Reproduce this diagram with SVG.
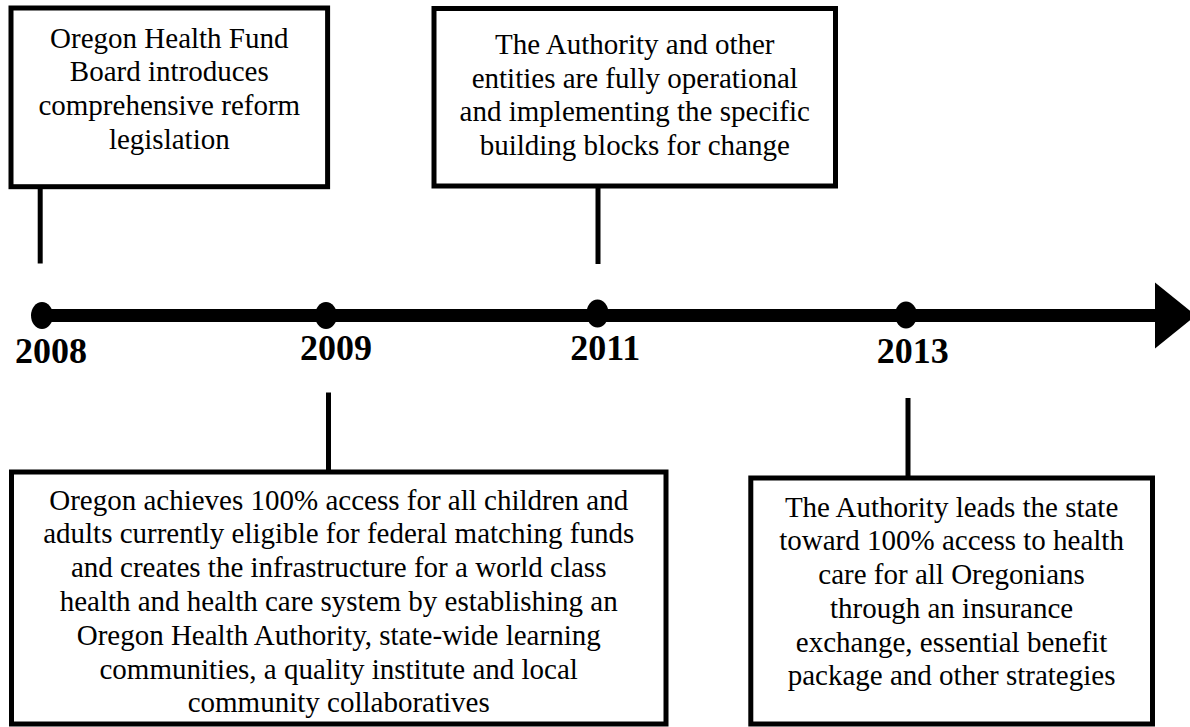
<svg xmlns="http://www.w3.org/2000/svg" width="1190" height="727" viewBox="0 0 1190 727">
  <style>
    .box { fill: #ffffff; stroke: #000000; stroke-width: 5; }
    .stem { stroke: #000000; stroke-width: 5; fill: none; }
    .axis { stroke: #000000; stroke-width: 13; fill: none; }
    .dot { fill: #000000; }
    .txt { font-family: 'Liberation Serif', 'DejaVu Serif', serif; font-size: 29px; font-weight: normal; font-style: normal; fill: #000000; text-anchor: middle; }
    .year { font-family: 'Liberation Serif', 'DejaVu Serif', serif; font-size: 36px; font-weight: bold; fill: #000000; text-anchor: middle; }
  </style>
  <rect x="0" y="0" width="1190" height="727" fill="#ffffff"/>

  <!-- timeline axis, arrow and stems -->
  <g id="connectors">
    <line class="axis" x1="42" y1="315.5" x2="1160" y2="315.5"/>
    <polygon points="1155,282.5 1196,315.5 1155,348.5" fill="#000000"/>
    <line class="stem" x1="40.2" y1="186" x2="40.2" y2="263.5"/>
    <line class="stem" x1="598" y1="186" x2="598" y2="264"/>
    <line class="stem" x1="328.5" y1="392.5" x2="328.5" y2="472"/>
    <line class="stem" x1="908" y1="398" x2="908" y2="478"/>
  </g>

  <!-- year markers -->
  <g id="year-2008">
    <ellipse class="dot" cx="42" cy="315.5" rx="11" ry="13.5"/>
    <text class="year" x="51" y="363">2008</text>
  </g>
  <g id="year-2009">
    <ellipse class="dot" cx="326" cy="315.5" rx="11" ry="13.5"/>
    <text class="year" x="336" y="360">2009</text>
  </g>
  <g id="year-2011">
    <ellipse class="dot" cx="597.5" cy="313.5" rx="11" ry="14"/>
    <text class="year" x="605.3" y="360">2011</text>
  </g>
  <g id="year-2013">
    <ellipse class="dot" cx="906" cy="315" rx="11" ry="13.5"/>
    <text class="year" x="912.7" y="363.3">2013</text>
  </g>

  <!-- milestone boxes -->
  <g id="box-2008">
    <rect class="box" x="11" y="8" width="316.6" height="178.7"/>
    <text class="txt" x="169.3" y="47.5">Oregon Health Fund</text>
    <text class="txt" x="169.3" y="81.2">Board introduces</text>
    <text class="txt" x="169.3" y="114.9">comprehensive reform</text>
    <text class="txt" x="169.3" y="148.6">legislation</text>
  </g>

  <g id="box-2011">
    <rect class="box" x="434" y="8.5" width="401.5" height="177.5"/>
    <text class="txt" x="634.75" y="54">The Authority and other</text>
    <text class="txt" x="634.75" y="87.7">entities are fully operational</text>
    <text class="txt" x="634.75" y="121.4">and implementing the specific</text>
    <text class="txt" x="634.75" y="155.1">building blocks for change</text>
  </g>

  <g id="box-2009">
    <rect class="box" x="11.5" y="472" width="654.5" height="252"/>
    <text class="txt" x="338.7" y="509.5">Oregon achieves 100% access for all children and</text>
    <text class="txt" x="338.7" y="543.3">adults currently eligible for federal matching funds</text>
    <text class="txt" x="338.7" y="577.1">and creates the infrastructure for a world class</text>
    <text class="txt" x="338.7" y="610.9">health and health care system by establishing an</text>
    <text class="txt" x="338.7" y="644.7">Oregon Health Authority, state-wide learning</text>
    <text class="txt" x="338.7" y="678.5">communities, a quality institute and local</text>
    <text class="txt" x="338.7" y="712.3">community collaboratives</text>
  </g>

  <g id="box-2013">
    <rect class="box" x="750.8" y="478" width="401.7" height="246"/>
    <text class="txt" x="951.6" y="516.7">The Authority leads the state</text>
    <text class="txt" x="951.6" y="550.4">toward 100% access to health</text>
    <text class="txt" x="951.6" y="584.1">care for all Oregonians</text>
    <text class="txt" x="951.6" y="617.8">through an insurance</text>
    <text class="txt" x="951.6" y="651.5">exchange, essential benefit</text>
    <text class="txt" x="951.6" y="685.2">package and other strategies</text>
  </g>
</svg>
